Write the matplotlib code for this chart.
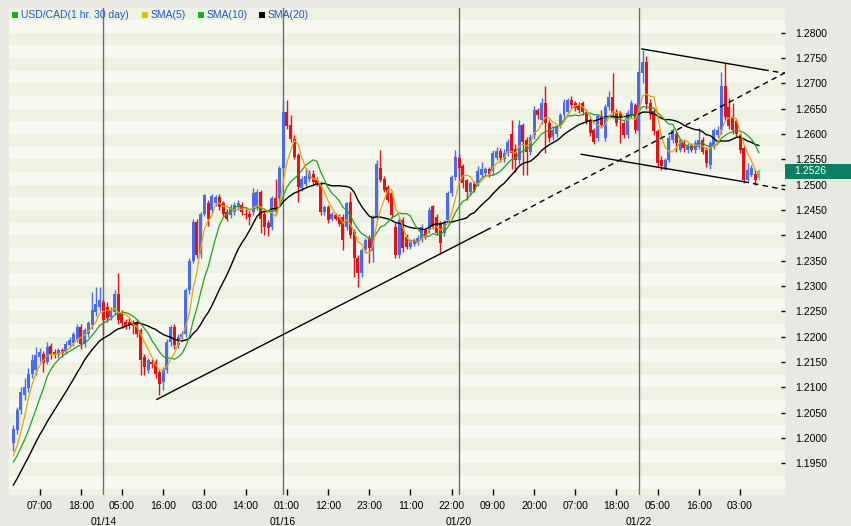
import matplotlib
matplotlib.use("Agg")
import matplotlib.pyplot as plt
import matplotlib.transforms as mtransforms
from matplotlib.patches import Rectangle
import numpy as np

plt.rcParams['font.family'] = ['Liberation Sans', 'DejaVu Sans']

# hourly candles, prices in 1/10000 (pips)
opens = [11990,12015,12055,12085,12098,12127,12135,12160,12165,12150,12182,12170,12163,12173,12170,12183,12188,12195,12219,12186,
         12206,12222,12249,12258,12268,12258,12239,12249,12285,12246,12228,12229,12226,12226,12213,12160,12134,12150,12150,12130,
         12110,12134,12190,12219,12183,12200,12206,12292,12350,12427,12364,12443,12463,12450,12463,12476,12463,12446,12440,12446,
         12455,12460,12443,12443,12446,12456,12486,12443,12424,12417,12473,12473,12532,12644,12618,12591,12558,12493,12502,12512,
         12522,12509,12502,12446,12456,12433,12440,12437,12437,12417,12466,12407,12355,12325,12371,12395,12370,12437,12532,12512,
         12496,12483,12417,12361,12430,12397,12377,12383,12385,12391,12410,12410,12457,12437,12424,12404,12430,12483,12516,12552,
         12536,12509,12486,12503,12503,12520,12524,12530,12526,12552,12566,12550,12562,12600,12570,12549,12618,12589,12565,12598,
         12648,12628,12661,12621,12595,12601,12618,12638,12644,12667,12661,12658,12661,12644,12628,12608,12592,12635,12592,12654,
         12674,12644,12641,12621,12598,12638,12658,12605,12720,12743,12661,12645,12605,12549,12532,12549,12588,12601,12569,12582,
         12569,12578,12569,12575,12588,12569,12539,12575,12598,12608,12694,12654,12634,12625,12598,12572,12509,12520,12522,12514]
highs = [12025,12062,12100,12118,12138,12165,12180,12178,12172,12190,12188,12175,12178,12178,12192,12200,12210,12225,12224,12218,
         12230,12288,12298,12298,12275,12268,12258,12292,12325,12252,12235,12236,12232,12232,12218,12165,12158,12155,12155,12135,
         12140,12195,12222,12224,12205,12212,12296,12355,12432,12432,12447,12482,12470,12482,12480,12482,12468,12452,12462,12465,
         12470,12466,12456,12448,12493,12492,12490,12448,12430,12478,12512,12536,12667,12667,12638,12598,12562,12518,12532,12528,
         12528,12515,12508,12460,12460,12447,12445,12442,12442,12466,12485,12412,12362,12375,12395,12400,12440,12548,12569,12518,
         12500,12488,12425,12435,12437,12402,12392,12395,12400,12422,12415,12455,12460,12442,12428,12430,12488,12520,12568,12560,
         12540,12512,12508,12508,12536,12545,12535,12535,12568,12575,12572,12570,12590,12628,12580,12628,12622,12595,12600,12655,
         12652,12671,12694,12628,12615,12620,12642,12670,12672,12675,12666,12664,12666,12650,12632,12612,12640,12648,12660,12684,
         12720,12650,12646,12626,12648,12668,12662,12730,12766,12755,12670,12650,12610,12556,12552,12598,12612,12606,12592,12588,
         12582,12582,12588,12612,12594,12575,12586,12612,12615,12723,12740,12672,12661,12630,12602,12578,12542,12538,12528,12530]
lows = [11975,12008,12048,12075,12090,12118,12125,12150,12130,12145,12155,12158,12158,12160,12165,12178,12182,12190,12175,12180,
        12200,12215,12240,12250,12204,12228,12232,12245,12225,12218,12215,12215,12205,12200,12124,12125,12128,12138,12118,12084,
        12095,12128,12182,12175,12178,12195,12200,12285,12345,12355,12355,12438,12418,12445,12458,12450,12438,12428,12435,12440,
        12450,12440,12432,12420,12440,12450,12404,12400,12398,12410,12440,12465,12525,12610,12585,12550,12466,12488,12498,12505,
        12500,12498,12440,12440,12425,12428,12430,12418,12371,12410,12395,12318,12298,12318,12365,12345,12348,12430,12505,12485,
        12465,12435,12355,12355,12368,12372,12372,12378,12380,12386,12392,12405,12412,12400,12364,12398,12425,12478,12510,12503,
        12494,12470,12480,12485,12498,12515,12518,12515,12520,12548,12545,12545,12556,12530,12525,12540,12520,12520,12558,12590,
        12630,12620,12562,12585,12588,12595,12612,12632,12640,12652,12645,12642,12638,12620,12596,12580,12586,12612,12586,12648,
        12636,12615,12582,12592,12592,12632,12602,12598,12700,12650,12630,12598,12535,12528,12528,12545,12582,12565,12565,12565,
        12562,12565,12562,12570,12560,12535,12530,12570,12592,12600,12628,12610,12600,12595,12562,12503,12505,12515,12499,12510]
closes = [12018,12055,12091,12100,12127,12153,12163,12170,12148,12180,12163,12164,12173,12168,12186,12193,12206,12219,12186,12213,
          12226,12252,12265,12272,12233,12236,12252,12285,12233,12226,12221,12223,12220,12206,12154,12140,12153,12145,12127,12107,
          12135,12190,12219,12183,12200,12206,12292,12350,12427,12361,12443,12479,12433,12477,12476,12456,12443,12433,12456,12460,
          12463,12446,12440,12437,12483,12486,12433,12417,12414,12473,12450,12532,12644,12615,12591,12555,12496,12512,12517,12523,
          12506,12502,12446,12456,12430,12443,12433,12423,12391,12463,12400,12355,12325,12371,12390,12375,12437,12540,12509,12490,
          12470,12440,12361,12430,12374,12377,12390,12390,12394,12417,12397,12450,12417,12404,12384,12427,12483,12516,12555,12533,
          12503,12486,12503,12490,12526,12530,12530,12522,12562,12566,12552,12562,12585,12562,12549,12618,12585,12565,12595,12648,
          12638,12661,12621,12592,12608,12615,12638,12664,12667,12658,12651,12648,12644,12625,12602,12585,12635,12618,12654,12674,
          12641,12621,12634,12598,12641,12661,12608,12723,12743,12660,12638,12605,12542,12536,12548,12592,12608,12582,12588,12572,
          12578,12569,12582,12588,12565,12542,12582,12608,12608,12694,12634,12615,12608,12601,12569,12509,12529,12532,12509,12526]
# closes before the visible window (for the moving averages)
prior_closes = [11800,11810,11825,11840,11850,11870,11890,11900,11910,11920,
                11930,11935,11940,11945,11950,11955,11955,11950,11945]

tick_idx = [7,18,29,40,51,62,73,84,95,106,117,128,139,150,161,172,183,194]
tick_labels = ['07:00','18:00','05:00','16:00','03:00','14:00','01:00','12:00','23:00',
               '11:00','22:00','09:00','20:00','07:00','18:00','05:00','16:00','03:00']
day_idx = [24, 72, 119, 167]
day_labels = ['01/14', '01/16', '01/20', '01/22']

# hand drawn trend lines (candle index, price)
support_x, support_y = [38.3, 127.3], [1.2076, 1.2414]
support_ext_x, support_ext_y = [129.0, 206.0], [1.2420, 1.2721]
upper_x, upper_y = [167.8, 200.2], [1.2768, 1.2727]
upper_ext_x, upper_ext_y = [200.2, 206.0], [1.2727, 1.2720]
lower_x, lower_y = [151.6, 194.9], [1.2560, 1.2506]
lower_ext_x, lower_ext_y = [194.9, 206.0], [1.2506, 1.2490]
last_price = 1.2526

o = np.array(opens) / 1e4
h = np.array(highs) / 1e4
l = np.array(lows) / 1e4
c = np.array(closes) / 1e4
allc = np.concatenate([np.array(prior_closes) / 1e4, c])
n = len(c)
idx = np.arange(n)

def sma(k):
    s = np.convolve(allc, np.ones(k) / k, mode='valid')
    return s[-n:]

fig = plt.figure(figsize=(8.51, 5.26), dpi=100)
fig.patch.set_facecolor('#EAE8E2')
ax = fig.add_axes([8.5/851, 31/526, 776.5/851, 487/526])
ax.set_xlim(-1.3, 206.0)
ax.set_ylim(1.18873, 1.28488)
ax.set_facecolor('#F7F9F0')

# striped background
yb = 1.18750
k = 0
while yb < 1.2875:
    if k % 2 == 0:
        ax.axhspan(yb, yb + 0.0025, color='#EEF2E3', lw=0, zorder=0)
    yb += 0.0025
    k += 1

for d in day_idx:
    ax.axvline(d, color='#6E6E6E', lw=1, zorder=1)

up = c >= o
cols = np.where(up, '#4A6AF0', '#E41218')
cols = cols.astype(object)
cols[-1] = '#40C8E8'
ax.vlines(idx, l, h, colors=cols, lw=1, zorder=2)
body_lo = np.minimum(o, c)
body_h = np.maximum(np.abs(c - o), 0.00012)
ax.bar(idx, body_h, bottom=body_lo, width=0.8, color=cols, lw=0, zorder=3)

ax.plot(idx, sma(20), color='black', lw=1, zorder=4)
ax.plot(idx, sma(10), color='#22A022', lw=0.9, zorder=4)
ax.plot(idx, sma(5), color='#E8A400', lw=0.9, zorder=4)

ax.plot(support_x, support_y, color='black', lw=1, zorder=5)
ax.plot(support_ext_x, support_ext_y, color='black', lw=1, ls=(0, (4, 3)), zorder=5)
ax.plot(upper_x, upper_y, color='black', lw=1, zorder=5)
ax.plot(upper_ext_x, upper_ext_y, color='black', lw=1, ls=(0, (4, 3)), zorder=5)
ax.plot(lower_x, lower_y, color='black', lw=1, zorder=5)
ax.plot(lower_ext_x, lower_ext_y, color='black', lw=1, ls=(0, (4, 3)), zorder=5)

for s in ax.spines.values():
    s.set_visible(False)

yt = np.arange(1.195, 1.2801, 0.005)
ax.yaxis.tick_right()
ax.set_yticks(yt)
ax.set_yticklabels(['%.4f' % v for v in yt])
ax.tick_params(axis='y', direction='in', length=3, width=1, pad=7, labelsize=7.5, colors='black')
ax.set_xticks(tick_idx)
ax.set_xticklabels(tick_labels)
ax.tick_params(axis='x', direction='in', length=4, width=1, pad=4, labelsize=7.5, colors='black')

xt = ax.get_xaxis_transform()
for d, lab in zip(day_idx, day_labels):
    ax.text(d, -0.056, lab, transform=xt, ha='center', va='center', fontsize=7.5)

# current price box
bt = mtransforms.blended_transform_factory(ax.transAxes, ax.transData)
ax.add_patch(Rectangle((1.0, last_price - 0.00148), 0.085, 0.00296, transform=bt,
                       facecolor='#0A7F64', edgecolor='none', clip_on=False, zorder=6))
ax.text(1.012, last_price, '%.4f' % last_price, transform=bt, color='white',
        ha='left', va='center', fontsize=7.5, zorder=7)

# legend
items = [(15, '#22AA22', 'USD/CAD(1 hr. 30 day)'), (145, '#E0C000', 'SMA(5)'),
         (201, '#22AA22', 'SMA(10)'), (262, 'black', 'SMA(20)')]
for px, col, lab in items:
    fig.patches.append(Rectangle(((px - 3) / 851, 1 - 18 / 526), 6 / 851, 6 / 526,
                                 transform=fig.transFigure, facecolor=col, edgecolor='none'))
    fig.text((px + 6) / 851, 1 - 15 / 526, lab, color='#2255CC', fontsize=7.5, va='center', ha='left')

fig.savefig('out.png', dpi=100, facecolor=fig.get_facecolor())
